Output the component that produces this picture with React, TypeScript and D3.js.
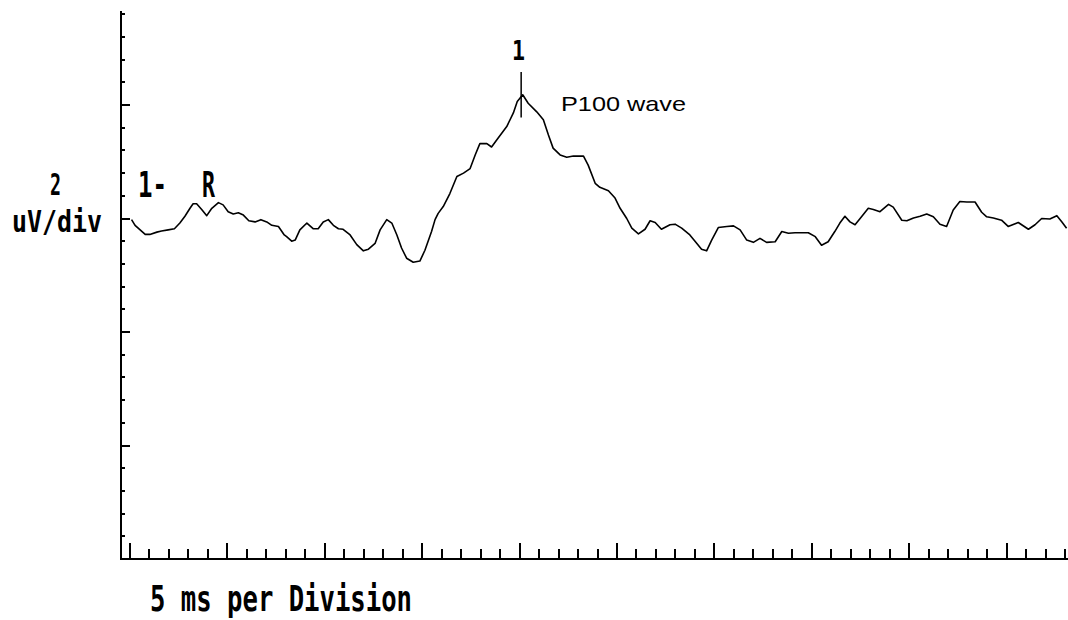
import React from "react";
import * as d3 from "d3";

// trace: time in ms, amplitude in uV
const timeMs = [
  0.4, 1.3, 3.9, 5.1, 6.9, 8.1, 9.8, 11.4, 12.8, 14.1, 15.4, 16.2, 17.1, 18.4, 19.7, 21.0,
  22.7, 23.9, 25.2, 26.5, 27.8, 29.1, 30.5, 32.1, 33.6, 35.1, 36.4, 38.1, 38.5, 39.6, 40.2,
  41.5, 42.4, 43.6, 45.4, 47.0, 48.3, 49.6, 50.9, 52.2, 53.5, 54.7, 56.5, 58.2, 59.9, 61.2,
  62.9, 64.2, 65.9, 67.2, 68.5, 69.7, 71.0, 72.7, 74.4, 75.7, 77.4, 78.3, 79.1, 80.4, 82.1,
  83.9, 85.6, 87.3, 88.6, 89.8, 91.6, 92.8, 94.5, 96.7, 98.4, 99.4, 100.8, 102.2, 104.4,
  106.1, 107.4, 108.6, 110.4, 112.1, 113.8, 116.4, 117.6, 119.4, 120.6, 122.8, 124.5, 125.8,
  127.5, 128.8, 130.5, 132.2, 133.5, 134.8, 136.4, 138.6, 139.9, 141.6, 143.7, 145.5, 146.7,
  148.0, 149.3, 151.0, 153.2, 154.9, 156.6, 158.3, 160.0, 161.7, 163.4, 165.6, 167.3, 169.0,
  170.7, 174.1, 175.9, 177.5, 179.2, 180.9, 182.2, 183.5, 184.8, 186.1, 187.4, 189.5, 190.8,
  192.5, 194.7, 195.9, 198.1, 199.4, 201.1, 202.8, 204.5, 206.2, 207.9, 209.6, 211.3, 213.0,
  214.8, 216.9, 218.6, 219.9, 221.6, 223.7, 225.4, 228.0, 230.6, 232.3, 234.0, 236.1, 237.9,
  239.2, 240.4,
];
const amplitudeUV = [
  -0.1, -0.6, -1.4, -1.4, -1.2, -1.1, -1.0, -0.9, -0.4, 0.2, 0.9, 1.3, 1.3, 0.8, 0.25, 0.9,
  1.4, 1.2, 0.6, 0.4, 0.5, 0.3, -0.2, -0.3, -0.1, -0.3, -0.6, -0.7, -0.9, -1.45, -1.6,
  -2.0, -1.9, -1.0, -0.4, -0.9, -0.9, -0.3, -0.1, -0.6, -0.9, -0.95, -1.45, -2.3, -2.85, -2.7,
  -2.2, -1.0, -0.1, -0.4, -1.45, -2.6, -3.5, -3.85, -3.75, -2.8, -1.15, -0.1, 0.45, 1.05, 2.2,
  3.7, 4.0, 4.4, 5.6, 6.6, 6.6, 6.3, 7.1, 8.1, 9.3, 10.3, 10.9, 10.15, 9.4,
  8.7, 7.35, 6.2, 5.6, 5.4, 5.5, 5.5, 4.7, 3.1, 2.75, 2.45, 1.8, 0.9,
  0.0, -0.85, -1.35, -0.95, -0.2, -0.35, -0.95, -0.55, -0.5, -0.85, -1.45, -2.2, -2.7,
  -2.85, -1.9, -0.8, -0.7, -0.65, -1.0, -1.9, -2.1, -1.75, -2.1, -2.05, -1.15, -1.3,
  -1.25, -1.25, -1.6, -2.35, -2.05, -1.15, -0.4, 0.2, -0.3, -0.55, 0.0, 0.9, 0.8,
  0.6, 1.25, 1.0, -0.15, -0.2, 0.05, 0.2, 0.4, 0.15, -0.5, -0.7, 0.75, 1.5,
  1.45, 1.45, 0.55, 0.15, 0.05, -0.15, -0.7, -0.35, -0.95, -0.55, 0.0, -0.05, 0.25,
  -0.3, -0.85,
];

// axis limits and ticks (ms and uV)
const timeTicks = d3.range(0, 241, 5);
const ampTicks = d3.range(-28, 19, 2);
const axisStartMs = -2.3;
const axisTopUV = 18.3;

// P100 marker
const peakMs = 100.4;
const peakUV = 10.9;

const W = 1068;
const H = 620;

export default function App() {
  const x = d3.scaleLinear().domain([0, 240]).range([130, 1065.04]);
  const y = d3.scaleLinear().domain([-30, 10]).range([559, 105]);

  const line = d3
    .line<number>()
    .x((d, i) => x(timeMs[i]))
    .y((d) => y(d));

  const x0 = x(axisStartMs);
  const yBase = y(-30);
  const bold = {
    fontFamily: "'DejaVu Sans Mono', monospace",
    fontWeight: 700,
    fontSize: 35,
  } as const;

  return (
    <svg
      width={W}
      height={H}
      style={{ position: "absolute", left: 0, top: 0, background: "#fff" }}
    >
      {/* axes */}
      <g stroke="#000" strokeWidth={2} shapeRendering="crispEdges">
        <line x1={x0} x2={x0} y1={y(axisTopUV)} y2={yBase + 1} />
        <line x1={x0} x2={W} y1={yBase} y2={yBase} />
        {ampTicks.map((v) => (
          <line
            key={"y" + v}
            x1={x0}
            x2={x0 + (v % 10 === 0 ? 9 : 4)}
            y1={y(v)}
            y2={y(v)}
          />
        ))}
        {timeTicks.map((t) => (
          <line
            key={"x" + t}
            x1={x(t)}
            x2={x(t)}
            y1={yBase}
            y2={yBase - (t % 25 === 0 ? 16 : 10)}
          />
        ))}
      </g>

      {/* trace */}
      <path
        d={line(amplitudeUV) || ""}
        fill="none"
        stroke="#000"
        strokeWidth={1.6}
        strokeLinejoin="round"
      />

      {/* peak marker */}
      <line
        x1={x(peakMs)}
        x2={x(peakMs)}
        y1={y(peakUV + 2)}
        y2={y(peakUV - 2)}
        stroke="#000"
        strokeWidth={1.5}
      />
      <text
        x={518.5}
        y={60}
        textAnchor="middle"
        textLength={13}
        lengthAdjust="spacingAndGlyphs"
        style={{ ...bold, fontSize: 26 }}
      >
        1
      </text>
      <text
        x={561}
        y={111}
        textLength={125}
        lengthAdjust="spacingAndGlyphs"
        style={{ fontFamily: "'Liberation Sans', Arial, sans-serif", fontSize: 21 }}
      >
        P100 wave
      </text>

      {/* labels */}
      <text x={50} y={195} textLength={11} lengthAdjust="spacingAndGlyphs" style={{ ...bold, fontSize: 30 }}>
        2
      </text>
      <text x={12} y={232} textLength={90} lengthAdjust="spacingAndGlyphs" style={{ ...bold, fontSize: 30 }}>
        uV/div
      </text>
      <text x={138} y={197} textLength={29} lengthAdjust="spacingAndGlyphs" style={bold}>
        1-
      </text>
      <text x={202} y={197} textLength={13} lengthAdjust="spacingAndGlyphs" style={bold}>
        R
      </text>
      <text x={150} y={611} textLength={262} lengthAdjust="spacingAndGlyphs" style={bold}>
        5 ms per Division
      </text>
    </svg>
  );
}
